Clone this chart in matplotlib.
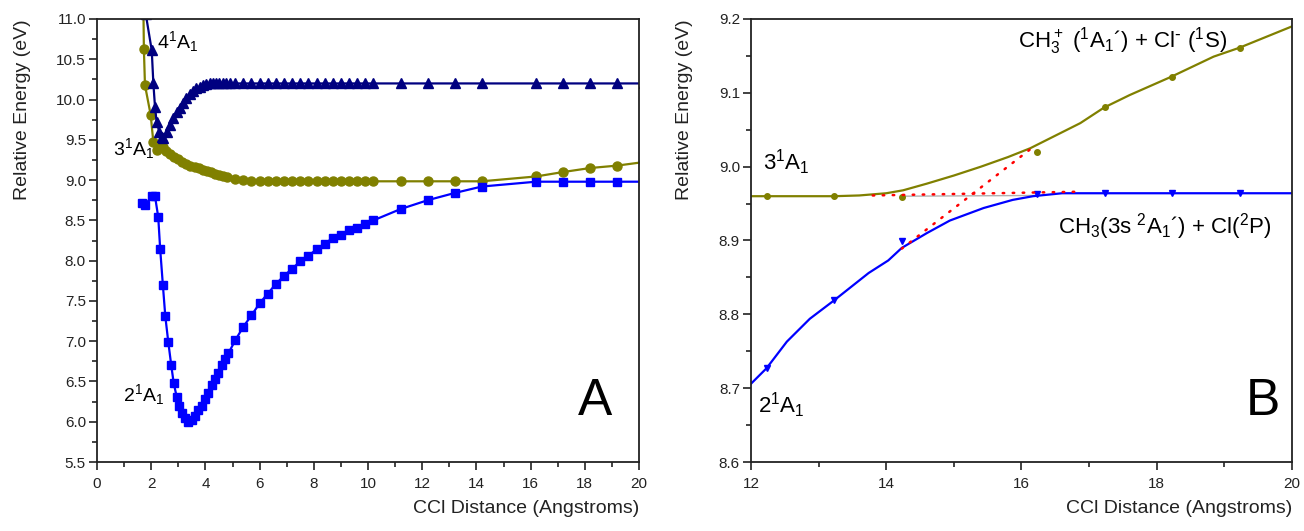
import matplotlib
matplotlib.use("Agg")
import matplotlib.pyplot as plt
from matplotlib.ticker import MultipleLocator, FormatStrFormatter

plt.rcParams["font.family"] = ["Liberation Sans", "DejaVu Sans"]
plt.rcParams["mathtext.default"] = "regular"

# ---- Panel A data ----
blueA_x = [1.65, 1.77, 2.02, 2.14, 2.26, 2.33, 2.43, 2.52, 2.63, 2.74, 2.83, 2.94, 3.02,
           3.13, 3.25, 3.37, 3.5, 3.62, 3.74, 3.86, 3.98, 4.1, 4.23, 4.35, 4.47, 4.6, 4.72,
           4.85, 5.1, 5.4, 5.7, 6.0, 6.3, 6.6, 6.9, 7.2, 7.5, 7.8, 8.1, 8.4, 8.7, 9.0, 9.3,
           9.6, 9.9, 10.2, 11.2, 12.2, 13.2, 14.2, 16.2, 17.2, 18.2, 19.2, 20.2]
blueA_y = [8.71, 8.69, 8.80, 8.80, 8.54, 8.15, 7.70, 7.31, 6.99, 6.70, 6.48, 6.31, 6.19,
           6.11, 6.05, 6.00, 6.02, 6.07, 6.14, 6.20, 6.28, 6.36, 6.45, 6.53, 6.61, 6.70, 6.78,
           6.85, 7.01, 7.18, 7.32, 7.47, 7.59, 7.71, 7.81, 7.90, 7.99, 8.06, 8.14, 8.21, 8.28,
           8.32, 8.38, 8.41, 8.46, 8.50, 8.64, 8.75, 8.84, 8.92, 8.98, 8.98, 8.98, 8.98, 8.98]

oliveA_x = [1.71, 1.73, 1.77, 1.98, 2.08, 2.2, 2.3, 2.42, 2.55, 2.69, 2.85, 3.0, 3.15, 3.3,
            3.45, 3.6, 3.75, 3.9, 4.05, 4.2, 4.35, 4.5, 4.65, 4.8, 5.1, 5.4, 5.7, 6.0, 6.3,
            6.6, 6.9, 7.2, 7.5, 7.8, 8.1, 8.4, 8.7, 9.0, 9.3, 9.6, 9.9, 10.2, 11.2, 12.2,
            13.2, 14.2, 16.2, 17.2, 18.2, 19.2, 20.2]
oliveA_y = [11.2, 10.63, 10.18, 9.81, 9.47, 9.37, 9.41, 9.41, 9.36, 9.33, 9.29, 9.26, 9.23,
            9.20, 9.18, 9.16, 9.145, 9.13, 9.11, 9.10, 9.08, 9.065, 9.05, 9.035, 9.015, 9.0,
            8.99, 8.985, 8.985, 8.985, 8.985, 8.985, 8.985, 8.985, 8.985, 8.985, 8.985,
            8.985, 8.985, 8.985, 8.985, 8.985, 8.985, 8.985, 8.985, 8.985, 9.045, 9.10,
            9.15, 9.18, 9.225]

navyA_x = [1.8, 2.02, 2.08, 2.14, 2.2, 2.3, 2.39, 2.45, 2.57, 2.69, 2.81, 2.94, 3.06, 3.18,
           3.3, 3.43, 3.55, 3.67, 3.8, 3.92, 4.04, 4.16, 4.28, 4.4, 4.52, 4.64, 4.76, 4.9,
           5.1, 5.4, 5.7, 6.0, 6.3, 6.6, 6.9, 7.2, 7.5, 7.8, 8.1, 8.4, 8.7, 9.0, 9.3, 9.6,
           9.9, 10.2, 11.2, 12.2, 13.2, 14.2, 16.2, 17.2, 18.2, 19.2, 20.2]
navyA_y = [11.06, 10.61, 10.2, 9.91, 9.72, 9.6, 9.54, 9.52, 9.6, 9.68, 9.77, 9.84, 9.9, 9.96,
           10.02, 10.07, 10.11, 10.14, 10.16, 10.18, 10.19, 10.2, 10.2, 10.2, 10.2, 10.2,
           10.2, 10.2, 10.2, 10.2, 10.2, 10.2, 10.2, 10.2, 10.2, 10.2, 10.2, 10.2, 10.2,
           10.2, 10.2, 10.2, 10.2, 10.2, 10.2, 10.2, 10.2, 10.2, 10.2, 10.2, 10.2, 10.2,
           10.2, 10.2, 10.2]

# ---- Panel B data ----
oliveB_line_x = [12.0, 12.23, 13.23, 13.6, 14.0, 14.25, 14.6, 15.0, 15.4, 15.8, 16.13, 16.5,
                 16.87, 17.22, 17.6, 18.22, 18.84, 19.22, 20.0]
oliveB_line_y = [8.96, 8.96, 8.96, 8.961, 8.964, 8.968, 8.977, 8.988, 9.0, 9.013, 9.025,
                 9.042, 9.059, 9.08, 9.097, 9.122, 9.149, 9.161, 9.19]
oliveB_pts_x = [12.23, 13.23, 14.23, 16.23, 17.23, 18.23, 19.23]
oliveB_pts_y = [8.96, 8.96, 8.959, 9.02, 9.081, 9.122, 9.161]

blueB_line_x = [12.0, 12.23, 12.53, 12.87, 13.23, 13.74, 14.03, 14.23, 14.6, 14.94, 15.44,
                15.87, 16.17, 16.6, 17.0, 18.0, 19.0, 20.0]
blueB_line_y = [8.706, 8.727, 8.763, 8.794, 8.819, 8.856, 8.873, 8.89, 8.91, 8.927, 8.944,
                8.955, 8.96, 8.964, 8.964, 8.964, 8.964, 8.964]
blueB_pts_x = [12.23, 13.23, 14.23, 16.23, 17.23, 18.23, 19.23]
blueB_pts_y = [8.727, 8.82, 8.899, 8.963, 8.964, 8.964, 8.964]

diabA_x = [13.8, 16.8]
diabA_y = [8.961, 8.966]
diabB_x = [14.23, 16.15]
diabB_y = [8.889, 9.025]
grey_x = [14.23, 16.23]
grey_y = [8.96, 8.961]

OLIVE = "#808000"
BLUE = "#0000ff"
NAVY = "#000080"

fig = plt.figure(figsize=(13.04, 5.31), dpi=100)
axA = fig.add_axes([97 / 1304, 69 / 531, 542 / 1304, 443 / 531])
axB = fig.add_axes([751 / 1304, 69 / 531, 541 / 1304, 443 / 531])


def style(ax, xmaj, xmin, ymaj, ymin, ylab_x):
    for s in ax.spines.values():
        s.set_linewidth(1.3)
        s.set_color("#222222")
    ax.xaxis.set_major_locator(MultipleLocator(xmaj))
    ax.xaxis.set_minor_locator(MultipleLocator(xmin))
    ax.yaxis.set_major_locator(MultipleLocator(ymaj))
    ax.yaxis.set_minor_locator(MultipleLocator(ymin))
    ax.yaxis.set_major_formatter(FormatStrFormatter("%.1f"))
    ax.tick_params(which="both", direction="out", top=False, right=False,
                   colors="#222222", width=1.2, labelsize=11)
    ax.tick_params(which="major", length=6)
    ax.tick_params(which="minor", length=3.5)
    ax.tick_params(axis="x", pad=5)
    ax.tick_params(axis="y", pad=2)
    ax.set_xlabel("CCl Distance (Angstroms)", fontsize=14, loc="right", color="#222222")
    ax.set_ylabel("Relative Energy (eV)", fontsize=14, loc="top", color="#222222")
    ax.xaxis.set_label_coords(1.0, -0.085)
    ax.yaxis.set_label_coords(ylab_x, 1.0)


# Panel A
axA.plot(oliveA_x, oliveA_y, "-o", color=OLIVE, lw=1.6, ms=6.5, mec=OLIVE)
axA.plot(blueA_x, blueA_y, "-s", color=BLUE, lw=1.6, ms=5.8, mec=BLUE)
axA.plot(navyA_x, navyA_y, "-^", color=NAVY, lw=1.6, ms=7, mec=NAVY)
axA.set_xlim(0, 20)
axA.set_ylim(5.5, 11.0)
style(axA, 2, 1, 0.5, 0.25, -0.122)

axA.text(2.21, 10.64, r"$4^1A_1$", fontsize=14, va="baseline")
axA.text(0.59, 9.31, r"$3^1A_1$", fontsize=14, va="baseline")
axA.text(0.96, 6.26, r"$2^1A_1$", fontsize=14, va="baseline")
axA.text(0.888, 0.106, "A", transform=axA.transAxes, fontsize=37, va="baseline")

# Panel B
axB.plot(grey_x, grey_y, color="#b0b0b0", lw=1.0)
axB.plot(oliveB_line_x, oliveB_line_y, color=OLIVE, lw=1.6)
axB.plot(oliveB_pts_x, oliveB_pts_y, "o", color=OLIVE, ms=4)
axB.plot(blueB_line_x, blueB_line_y, color=BLUE, lw=1.6)
axB.plot(blueB_pts_x, blueB_pts_y, "v", color=BLUE, ms=4)
axB.plot(diabA_x, diabA_y, color="#ff0000", lw=1.8, ls=(0, (0.6, 3.4)),
         dash_capstyle="round")
axB.plot(diabB_x, diabB_y, color="#ff0000", lw=1.8, ls=(0, (0.6, 3.4)),
         dash_capstyle="round")
axB.set_xlim(12, 20)
axB.set_ylim(8.6, 9.2)
style(axB, 2, 1, 0.1, 0.05, -0.107)

axB.text(12.18, 8.995, r"$3^1A_1$", fontsize=16, va="baseline")
axB.text(12.1, 8.666, r"$2^1A_1$", fontsize=16, va="baseline")
axB.text(15.95, 9.161, r"CH$_3^+$ ($^1$A$_1$´) + Cl$^{\text{-}}$ ($^1$S)", fontsize=16,
         va="baseline")
axB.text(16.54, 8.910, r"CH$_3$(3s $^2$A$_1$´) + Cl($^2$P)", fontsize=16, va="baseline")
axB.text(0.915, 0.106, "B", transform=axB.transAxes, fontsize=37, va="baseline")

fig.savefig("out.png", dpi=100)
